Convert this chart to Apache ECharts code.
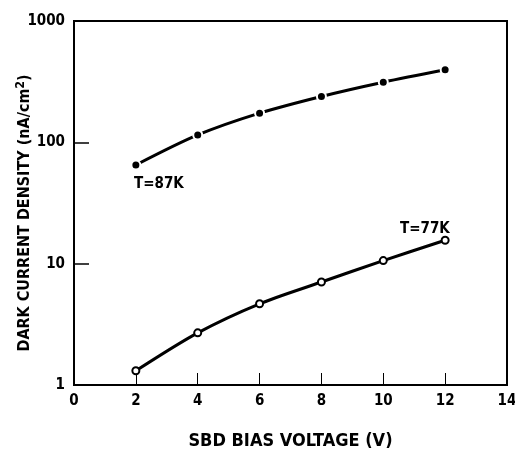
<!DOCTYPE html>
<html><head><meta charset="utf-8">
<script src="https://cdn.jsdelivr.net/npm/echarts@6/dist/echarts.min.js"></script>
<style>html,body{margin:0;padding:0;background:#fff}#c{width:515px;height:451px}</style>
</head><body><div id="c"></div>
<script>
const voltages = [2, 4, 6, 8, 10, 12];
const dens87K = [65, 115, 174, 239, 313, 396];
const dens77K = [1.31, 2.69, 4.67, 7.06, 10.6, 15.6];
const xTicks = [0, 2, 4, 6, 8, 10, 12, 14];
const yTicks = [1, 10, 100, 1000];

const FONT = "'DejaVu Sans Condensed','Liberation Sans Narrow',sans-serif";
const chart = echarts.init(document.getElementById('c'));
chart.setOption({
  animation: false,
  backgroundColor: '#fff',
  grid: {left: 74, right: 8, top: 21, bottom: 66, show: true, borderColor: '#000', borderWidth: 2,
    containLabel: false, outerBoundsMode: 'none'},
  xAxis: {
    type: 'value', min: 0, max: 14, interval: 2,
    axisLine: {show: true, lineStyle: {color: '#000', width: 2}},
    axisTick: {show: true, inside: true, length: 12, lineStyle: {color: '#000', width: 1}},
    splitLine: {show: false},
    axisLabel: {color: '#000', fontFamily: FONT, fontWeight: 'bold', fontSize: 15, margin: 9,
      formatter: v => xTicks.includes(v) ? String(v) : ''},
    name: 'SBD BIAS VOLTAGE (V)', nameLocation: 'middle', nameGap: 47, nameMoveOverlap: false,
    nameTextStyle: {color: '#000', fontFamily: FONT, fontWeight: 'bold', fontSize: 18}
  },
  yAxis: {
    type: 'log', logBase: 10, min: 1, max: 1000,
    axisLine: {show: true, lineStyle: {color: '#000', width: 2}},
    axisTick: {show: true, inside: true, length: 15, lineStyle: {color: '#000', width: 1.5}},
    minorTick: {show: false},
    splitLine: {show: false},
    axisLabel: {color: '#000', fontFamily: FONT, fontWeight: 'bold', fontSize: 15, margin: 9,
      formatter: v => yTicks.includes(Math.round(v)) ? String(Math.round(v)) : ''},
    name: 'DARK CURRENT DENSITY (nA/cm{sup|2})', nameLocation: 'middle', nameGap: 39, nameMoveOverlap: false,
    nameTextStyle: {color: '#000', fontFamily: FONT, fontWeight: 'bold', fontSize: 16, padding: [0, 20, 0, 0],
      rich: {sup: {fontFamily: FONT, fontWeight: 'bold', fontSize: 12, verticalAlign: 'top', padding: [0, 0, 8, 0], color: '#000'}}}
  },
  series: [
    {
      type: 'line', smooth: 0.3,
      data: voltages.map((x, i) => [x, dens87K[i]]),
      symbol: 'circle', symbolSize: 9,
      itemStyle: {color: '#000', borderColor: '#fff', borderWidth: 2},
      lineStyle: {color: '#000', width: 3}
    },
    {
      type: 'line', smooth: 0.3,
      data: voltages.map((x, i) => [x, dens77K[i]]),
      symbol: 'emptyCircle', symbolSize: 7,
      itemStyle: {color: '#000', borderColor: '#000', borderWidth: 1.5},
      lineStyle: {color: '#000', width: 3}
    }
  ],
  graphic: [
    {type: 'text', left: 134, top: 177, style: {text: 'T=87K', fill: '#000', font: "bold 15px " + FONT}},
    {type: 'text', left: 400, top: 222, style: {text: 'T=77K', fill: '#000', font: "bold 15px " + FONT}}
  ]
});
</script></body></html>
